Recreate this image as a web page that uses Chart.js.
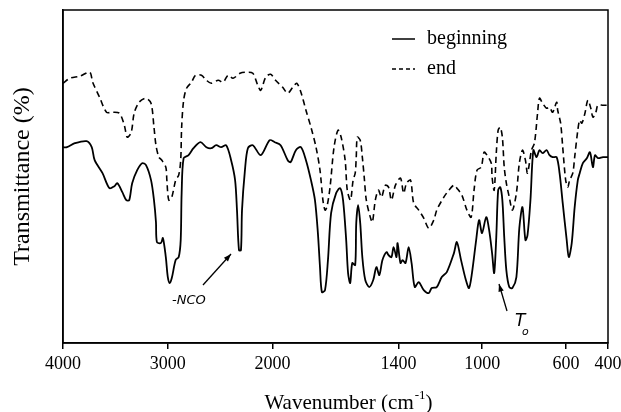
<!DOCTYPE html>
<html><head><meta charset="utf-8">
<script src="https://cdn.jsdelivr.net/npm/chart.js@4.4.1/dist/chart.umd.min.js"></script>
<style>html,body{margin:0;padding:0;background:#fff}#wrap{width:621px;height:412px}</style>
</head><body><div id="wrap"><canvas id="c" width="621" height="412"></canvas></div>
<script>
const seriesNames = ['beginning', 'end'];
const tickWavenumbers = [4000, 3000, 2000, 1400, 1000, 600, 400];
const xTitle = 'Wavenumber (cm';
const xTitleSup = '-1';
const yTitle = 'Transmittance (%)';

const beginningWn = [4000,3962,3887,3774,3726,3698,3623,3557,3509,3481,
3434,3396,3368,3340,3292,3245,3208,3160,3132,3113,
3104,3066,3047,3019,3000,2981,2962,2925,2896,2877,
2868,2849,2802,2755,2689,2632,2585,2538,2491,2443,
2396,2358,2340,2321,2302,2292,2264,2236,2189,2113,
2028,1990,1962,1928,1914,1889,1865,1841,1817,1798,
1784,1774,1765,1750,1736,1721,1697,1678,1664,1649,
1640,1630,1620,1606,1601,1592,1582,1572,1558,1539,
1520,1505,1491,1476,1457,1447,1433,1423,1409,1404,
1390,1380,1366,1351,1337,1322,1303,1279,1255,1241,
1217,1193,1169,1135,1121,1101,1078,1063,1049,1029,
1015,1001,981,967,953,943,933,924,914,904,
895,885,871,856,837,823,808,794,784,770,
756,741,727,712,693,679,664,645,631,616,
597,587,573,559,544,535,520,501,486,472,
462,448,424,400];
const beginningT = [58.8,58.8,60.0,60.6,58.8,54.9,51.0,46.5,47.1,48.0,
45.3,42.9,42.9,48.0,51.9,54.0,53.4,48.9,42.9,36.3,
30.3,30.0,31.5,25.8,19.8,18.0,19.5,24.9,25.8,30.9,
45.0,55.5,56.4,58.5,60.3,58.8,58.5,59.4,58.8,59.4,
54.9,48.9,39.9,27.9,27.9,39.9,51.9,58.5,59.4,56.4,
60.9,60.3,59.4,54.9,54.3,57.9,58.8,54.9,48.9,42.9,
33.0,22.8,15.3,15.9,24.9,39.0,45.0,46.5,42.9,30.9,
21.0,18.0,24.0,23.4,36.0,41.4,36.0,25.8,18.9,16.8,
18.9,22.8,20.4,24.9,27.3,26.4,25.8,28.8,25.8,30.0,
24.0,24.9,24.0,28.8,24.0,16.8,18.3,15.9,15.0,16.5,
16.8,19.8,21.3,27.0,30.3,24.9,18.9,16.5,21.0,30.9,
36.9,33.0,37.8,33.9,27.0,21.0,31.8,45.9,46.8,42.9,
31.8,21.9,16.8,16.5,19.8,34.5,40.8,30.9,32.4,42.9,
57.9,55.8,57.9,57.0,57.9,56.4,55.8,55.8,51.0,42.0,
30.9,25.8,30.0,40.8,48.9,51.0,54.0,55.5,57.3,52.8,
56.4,55.5,55.8,55.8];

const endWn = [4000,3934,3840,3745,3717,3651,3585,3528,3462,3415,
3387,3349,3321,3274,3208,3160,3132,3113,3085,3057,
3019,3009,2991,2962,2925,2896,2877,2868,2849,2821,
2774,2736,2679,2632,2585,2519,2472,2425,2377,2311,
2255,2189,2142,2113,2066,2019,1986,1952,1928,1904,
1885,1865,1841,1817,1793,1774,1760,1750,1741,1726,
1707,1688,1673,1654,1644,1630,1625,1616,1606,1601,
1596,1582,1572,1563,1553,1534,1524,1510,1495,1481,
1462,1447,1433,1414,1390,1375,1361,1342,1327,1303,
1279,1255,1231,1217,1183,1159,1135,1121,1097,1073,
1053,1039,1025,1005,991,977,957,953,943,933,
924,914,904,895,885,871,856,837,823,808,
794,784,765,751,736,727,712,693,679,664,
645,640,626,616,602,592,583,568,559,544,
535,525,510,496,482,472,458,448,424,400];
const endT = [78.0,79.5,80.1,81.3,78.3,73.8,69.3,69.3,69.0,65.4,
61.8,63.3,69.0,72.3,73.5,72.0,64.8,59.4,55.8,54.9,
52.8,48.9,42.9,43.8,48.9,50.4,54.9,64.8,72.9,76.5,
78.3,80.4,80.4,78.9,78.0,78.9,78.3,80.4,79.5,81.0,
81.3,81.0,77.4,75.9,79.8,80.7,78.9,76.8,75.0,76.8,
78.0,75.3,69.9,64.8,58.8,51.9,42.9,39.9,40.8,46.8,
58.8,63.9,61.8,54.9,45.9,42.9,43.8,48.9,51.0,55.8,
61.8,60.9,55.8,49.8,42.9,37.8,36.3,42.9,45.9,43.8,
47.4,46.8,42.9,47.4,49.5,45.0,48.0,48.9,42.0,39.9,
37.5,34.5,36.9,39.9,43.8,45.9,47.4,46.5,44.4,39.9,
37.8,45.9,51.9,52.8,57.3,56.4,54.0,49.8,45.9,57.0,
63.9,64.8,61.8,52.8,48.0,43.8,39.9,45.0,54.0,57.9,
54.9,51.0,57.9,60.0,69.0,73.5,72.0,70.5,70.8,69.3,
72.3,69.9,66.0,58.8,48.9,46.8,48.9,51.0,55.8,63.9,
66.9,66.0,69.0,72.9,70.5,67.8,69.3,71.4,71.4,71.4];

// IR axis with scale change at 2000 cm-1 (half compression above 2000)
function wnToPos(w) { return w >= 2000 ? (4000 - w) / 2 : 1000 + (2000 - w); }
function posToWn(p) { return p <= 1000 ? 4000 - 2 * p : 2000 - (p - 1000); }
function pts(wn, t) { return wn.map((w, i) => ({ x: wnToPos(w), y: t[i] })); }

const SERIF = '"Liberation Serif", "Times New Roman", serif';

const decor = {
  id: 'decor',
  afterDraw(chart) {
    const ctx = chart.ctx, a = chart.chartArea;
    ctx.save();
    ctx.strokeStyle = '#000';
    ctx.lineWidth = 1.5;
    ctx.strokeRect(a.left, a.top, a.right - a.left, a.bottom - a.top);

    // legend
    ctx.lineWidth = 1.5;
    ctx.beginPath(); ctx.moveTo(392, 39); ctx.lineTo(415, 39); ctx.stroke();
    ctx.setLineDash([4, 3]);
    ctx.beginPath(); ctx.moveTo(392, 69); ctx.lineTo(415, 69); ctx.stroke();
    ctx.setLineDash([]);
    ctx.fillStyle = '#000';
    ctx.font = '20px ' + SERIF;
    ctx.textBaseline = 'alphabetic';
    ctx.textAlign = 'left';
    ctx.fillText(seriesNames[0], 427, 44);
    ctx.fillText(seriesNames[1], 427, 74);

    // x title with superscript
    ctx.font = '21px ' + SERIF;
    const w1 = ctx.measureText(xTitle).width;
    ctx.font = '13px ' + SERIF;
    const w2 = ctx.measureText(xTitleSup).width;
    ctx.font = '21px ' + SERIF;
    let x0 = 348 - (w1 + w2 + ctx.measureText(')').width) / 2;
    ctx.fillText(xTitle, x0, 409);
    ctx.font = '13px ' + SERIF;
    ctx.fillText(xTitleSup, x0 + w1 + 1, 399);
    ctx.font = '21px ' + SERIF;
    ctx.fillText(')', x0 + w1 + w2 + 1, 409);

    // hand annotations
    ctx.lineWidth = 1.3;
    function arrow(x1, y1, x2, y2) {
      ctx.beginPath(); ctx.moveTo(x1, y1); ctx.lineTo(x2, y2); ctx.stroke();
      const ang = Math.atan2(y2 - y1, x2 - x1), L = 8;
      ctx.beginPath();
      ctx.moveTo(x2, y2);
      ctx.lineTo(x2 - L * Math.cos(ang - 0.35), y2 - L * Math.sin(ang - 0.35));
      ctx.lineTo(x2 - L * Math.cos(ang + 0.35), y2 - L * Math.sin(ang + 0.35));
      ctx.closePath(); ctx.fill();
    }
    arrow(203, 285, 231, 254);
    arrow(507, 311, 499, 284);
    ctx.font = 'italic 13px "DejaVu Sans", sans-serif';
    ctx.fillText('-NCO', 172, 304);
    ctx.font = 'italic 17px "DejaVu Sans", sans-serif';
    ctx.fillText('T', 515, 326);
    ctx.font = 'italic 11px "DejaVu Sans", sans-serif';
    ctx.fillText('o', 522, 335);
    ctx.restore();
  }
};

new Chart(document.getElementById('c'), {
  type: 'line',
  data: {
    datasets: [
      { label: seriesNames[0], data: pts(beginningWn, beginningT), borderColor: '#000', borderWidth: 1.8, pointRadius: 0, tension: 0.3, fill: false },
      { label: seriesNames[1], data: pts(endWn, endT), borderColor: '#000', borderWidth: 1.6, borderDash: [6, 4], pointRadius: 0, tension: 0.3, fill: false }
    ]
  },
  options: {
    responsive: false,
    animation: false,
    devicePixelRatio: 1,
    layout: { padding: { top: 10, right: 13, left: 0, bottom: 0 } },
    plugins: { legend: { display: false }, tooltip: { enabled: false } },
    scales: {
      x: {
        type: 'linear', min: 0, max: 2600,
        afterBuildTicks: s => { s.ticks = tickWavenumbers.map(w => ({ value: wnToPos(w) })); },
        afterFit: s => { s.height = 69; s.paddingLeft = 0; s.paddingRight = 0; },
        ticks: { callback: v => String(posToWn(v)), color: '#000', font: { family: SERIF, size: 18 }, maxRotation: 0, autoSkip: false, padding: 4 },
        grid: { drawOnChartArea: false, drawTicks: true, tickLength: 6, color: '#000', lineWidth: 1.5 },
        border: { display: true, color: '#000', width: 1.5 }
      },
      y: {
        min: 0, max: 100,
        afterFit: s => { s.width = 63; },
        ticks: { display: false },
        grid: { display: false },
        border: { display: true, color: '#000', width: 1.5 },
        title: { display: true, text: yTitle, color: '#000', font: { family: SERIF, size: 24, lineHeight: 1 }, padding: { top: 11, bottom: 0 } }
      }
    }
  },
  plugins: [decor]
});
</script></body></html>
